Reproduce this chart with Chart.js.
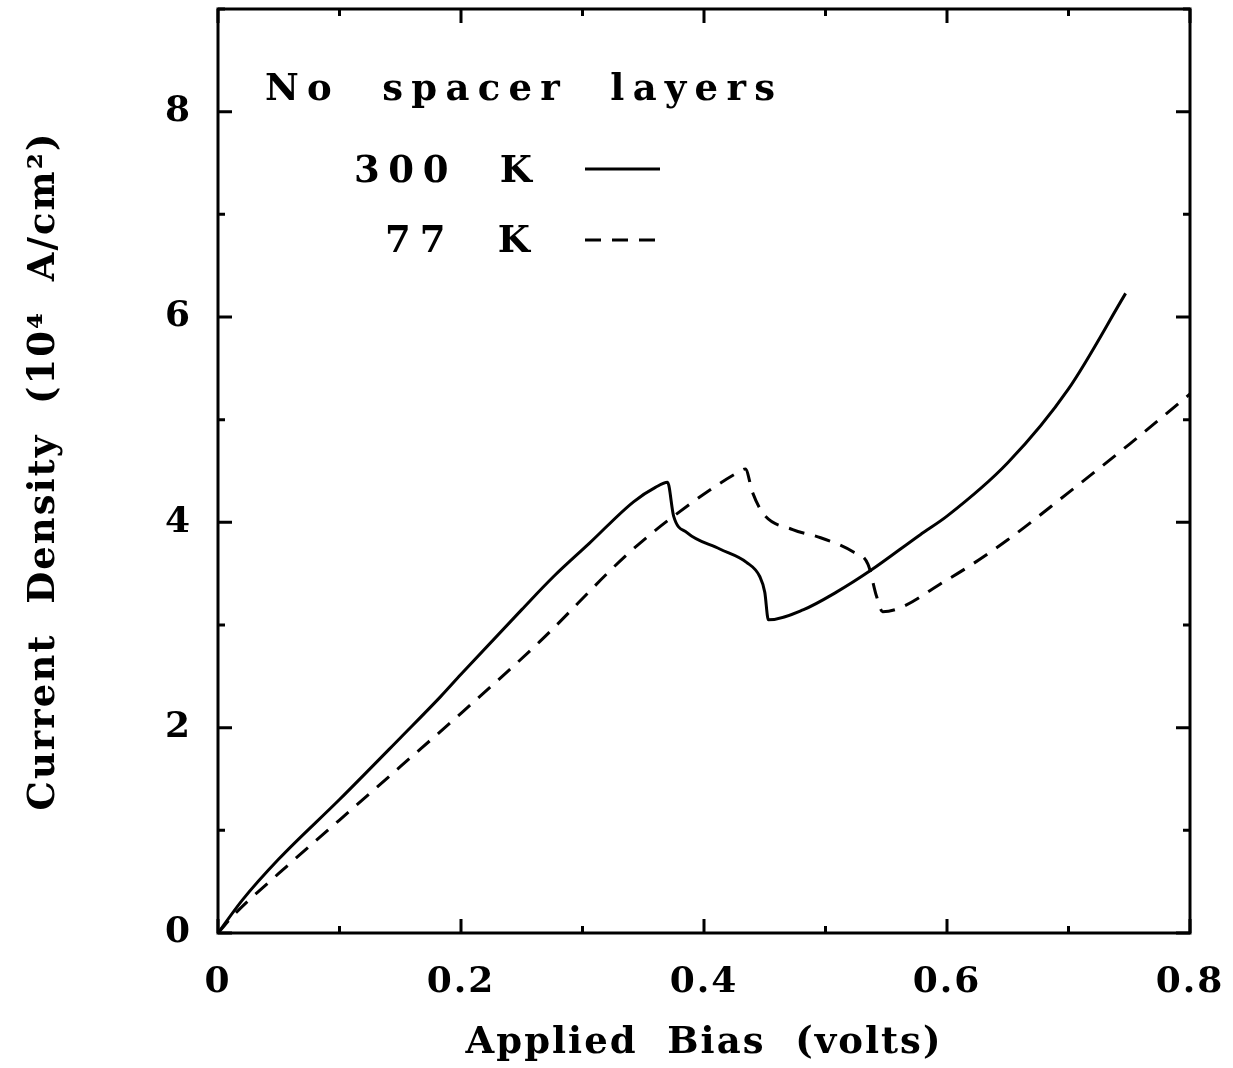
<!DOCTYPE html>
<html>
<head>
<meta charset="utf-8">
<script src="https://cdn.jsdelivr.net/npm/chart.js@4"></script>
<style>
  body { margin: 0; background: #fff; }
  #wrap { width: 1233px; height: 1068px; }
</style>
</head>
<body>
<div id="wrap"><canvas id="ivChart"></canvas></div>
<script>
// Data (bias in volts, current density in 10^4 A/cm^2)
const bias300 = [0, 0.02, 0.05, 0.1, 0.15, 0.183, 0.2, 0.25, 0.276, 0.306, 0.342, 0.36, 0.37,
  0.375, 0.386, 0.413, 0.435, 0.446, 0.45, 0.453, 0.482, 0.509, 0.537, 0.578, 0.6, 0.65, 0.7, 0.747];
const current300 = [0, 0.32, 0.72, 1.30, 1.90, 2.30, 2.52, 3.15, 3.47, 3.80, 4.20, 4.34, 4.39,
  4.06, 3.90, 3.74, 3.61, 3.47, 3.32, 3.05, 3.15, 3.32, 3.53, 3.88, 4.06, 4.58, 5.30, 6.23];

const bias77 = [0, 0.015, 0.05, 0.1, 0.15, 0.2, 0.265, 0.337, 0.375, 0.43, 0.434,
  0.44, 0.449, 0.473, 0.496, 0.523, 0.535, 0.542, 0.547, 0.6, 0.65, 0.7, 0.75, 0.8];
const current77 = [0, 0.2, 0.58, 1.1, 1.62, 2.14, 2.84, 3.69, 4.06, 4.50, 4.52,
  4.29, 4.08, 3.93, 3.85, 3.71, 3.59, 3.28, 3.13, 3.44, 3.83, 4.29, 4.76, 5.25];

const seriesNames = ['300 K', '77 K'];
const xTickLabels = ['0', '0.2', '0.4', '0.6', '0.8'];
const yTickLabels = ['0', '2', '4', '6', '8'];

const toPoints = (xs, ys) => xs.map((x, i) => ({ x: x, y: ys[i] }));
const dash77 = [16, 11];

// text spacing like the old plotter font
const spacingPlugin = {
  id: 'spacing',
  beforeDraw(chart) { chart.ctx.letterSpacing = '2px'; }
};

// frame with inward ticks on all four sides
const framePlugin = {
  id: 'frame',
  afterDatasetsDraw(chart) {
    const { ctx, chartArea: a, scales } = chart;
    ctx.save();
    ctx.strokeStyle = '#000';
    ctx.lineWidth = 3;
    ctx.strokeRect(a.left, a.top, a.right - a.left, a.bottom - a.top);
    ctx.beginPath();
    scales.x.ticks.forEach((t, i) => {
      const px = scales.x.getPixelForValue(t.value);
      const len = i % 2 === 0 ? 14 : 7;
      ctx.moveTo(px, a.bottom); ctx.lineTo(px, a.bottom - len);
      ctx.moveTo(px, a.top); ctx.lineTo(px, a.top + len);
    });
    scales.y.ticks.forEach((t, i) => {
      const py = scales.y.getPixelForValue(t.value);
      const len = i % 2 === 0 ? 14 : 7;
      ctx.moveTo(a.left, py); ctx.lineTo(a.left + len, py);
      ctx.moveTo(a.right, py); ctx.lineTo(a.right - len, py);
    });
    ctx.stroke();
    ctx.restore();
  }
};

function fitText(ctx, s, x, y, width) {
  ctx.letterSpacing = '0px';
  const w0 = ctx.measureText(s).width;
  ctx.letterSpacing = ((width - w0) / (s.length - 1)) + 'px';
  ctx.fillText(s, x, y);
}

// legend drawn inside the plot, top left
const keyPlugin = {
  id: 'key',
  afterDraw(chart) {
    const { ctx, chartArea: a } = chart;
    const L = a.left, T = a.top;
    ctx.save();
    ctx.fillStyle = '#000';
    ctx.font = 'bold 37px "DejaVu Serif"';
    ctx.textAlign = 'left';
    ctx.textBaseline = 'alphabetic';
    fitText(ctx, 'No  spacer  layers', L + 47, T + 91, 510);
    fitText(ctx, seriesNames[0].replace(' ', '  '), L + 136, T + 173, 178);
    fitText(ctx, seriesNames[1].replace(' ', '  '), L + 167, T + 243, 145);
    ctx.letterSpacing = '0px';
    ctx.strokeStyle = '#000';
    ctx.lineWidth = 3;
    ctx.beginPath();
    ctx.moveTo(L + 367, T + 160); ctx.lineTo(L + 442, T + 160);
    ctx.stroke();
    ctx.setLineDash(dash77);
    ctx.beginPath();
    ctx.moveTo(L + 367, T + 231); ctx.lineTo(L + 442, T + 231);
    ctx.stroke();
    ctx.restore();
  }
};

const tickFont = { family: 'DejaVu Serif', size: 36, weight: 'bold' };
const titleFont = { family: 'DejaVu Serif', size: 37, weight: 'bold' };

new Chart(document.getElementById('ivChart').getContext('2d'), {
  type: 'line',
  data: {
    datasets: [{
      label: seriesNames[0],
      data: toPoints(bias300, current300),
      borderColor: '#000',
      borderWidth: 3,
      pointRadius: 0,
      cubicInterpolationMode: 'monotone'
    }, {
      label: seriesNames[1],
      data: toPoints(bias77, current77),
      borderColor: '#000',
      borderWidth: 3,
      borderDash: dash77,
      pointRadius: 0,
      cubicInterpolationMode: 'monotone'
    }]
  },
  options: {
    responsive: true,
    maintainAspectRatio: false,
    animation: false,
    layout: { padding: { top: 9, right: 43, left: 0, bottom: 0 } },
    plugins: {
      legend: { display: false },
      tooltip: { enabled: false }
    },
    scales: {
      x: {
        type: 'linear',
        min: 0,
        max: 0.8,
        grid: { display: false, drawTicks: false },
        border: { display: false },
        afterFit(scale) {
          scale.height = 135;
          scale.paddingLeft = 0;
          scale.paddingRight = 0;
        },
        ticks: {
          stepSize: 0.1,
          padding: 28,
          color: '#000',
          font: tickFont,
          maxRotation: 0,
          callback: (v, i) => (i % 2 === 0 ? xTickLabels[i / 2] : '')
        },
        title: {
          display: true,
          text: 'Applied  Bias  (volts)',
          color: '#000',
          font: titleFont,
          padding: { top: 0, bottom: 2 }
        }
      },
      y: {
        min: 0,
        max: 9,
        grid: { display: false, drawTicks: false },
        border: { display: false },
        afterFit(scale) {
          scale.width = 218;
          scale.paddingTop = 0;
          scale.paddingBottom = 0;
        },
        ticks: {
          stepSize: 1,
          padding: 26,
          color: '#000',
          font: tickFont,
          callback: (v, i) => (i % 2 === 0 && i / 2 < yTickLabels.length ? yTickLabels[i / 2] : '')
        },
        title: {
          display: true,
          text: 'Current  Density  (10⁴  A/cm²)',
          color: '#000',
          font: titleFont,
          padding: { top: 22, bottom: 0 }
        }
      }
    }
  },
  plugins: [spacingPlugin, framePlugin, keyPlugin]
});
</script>
</body>
</html>
